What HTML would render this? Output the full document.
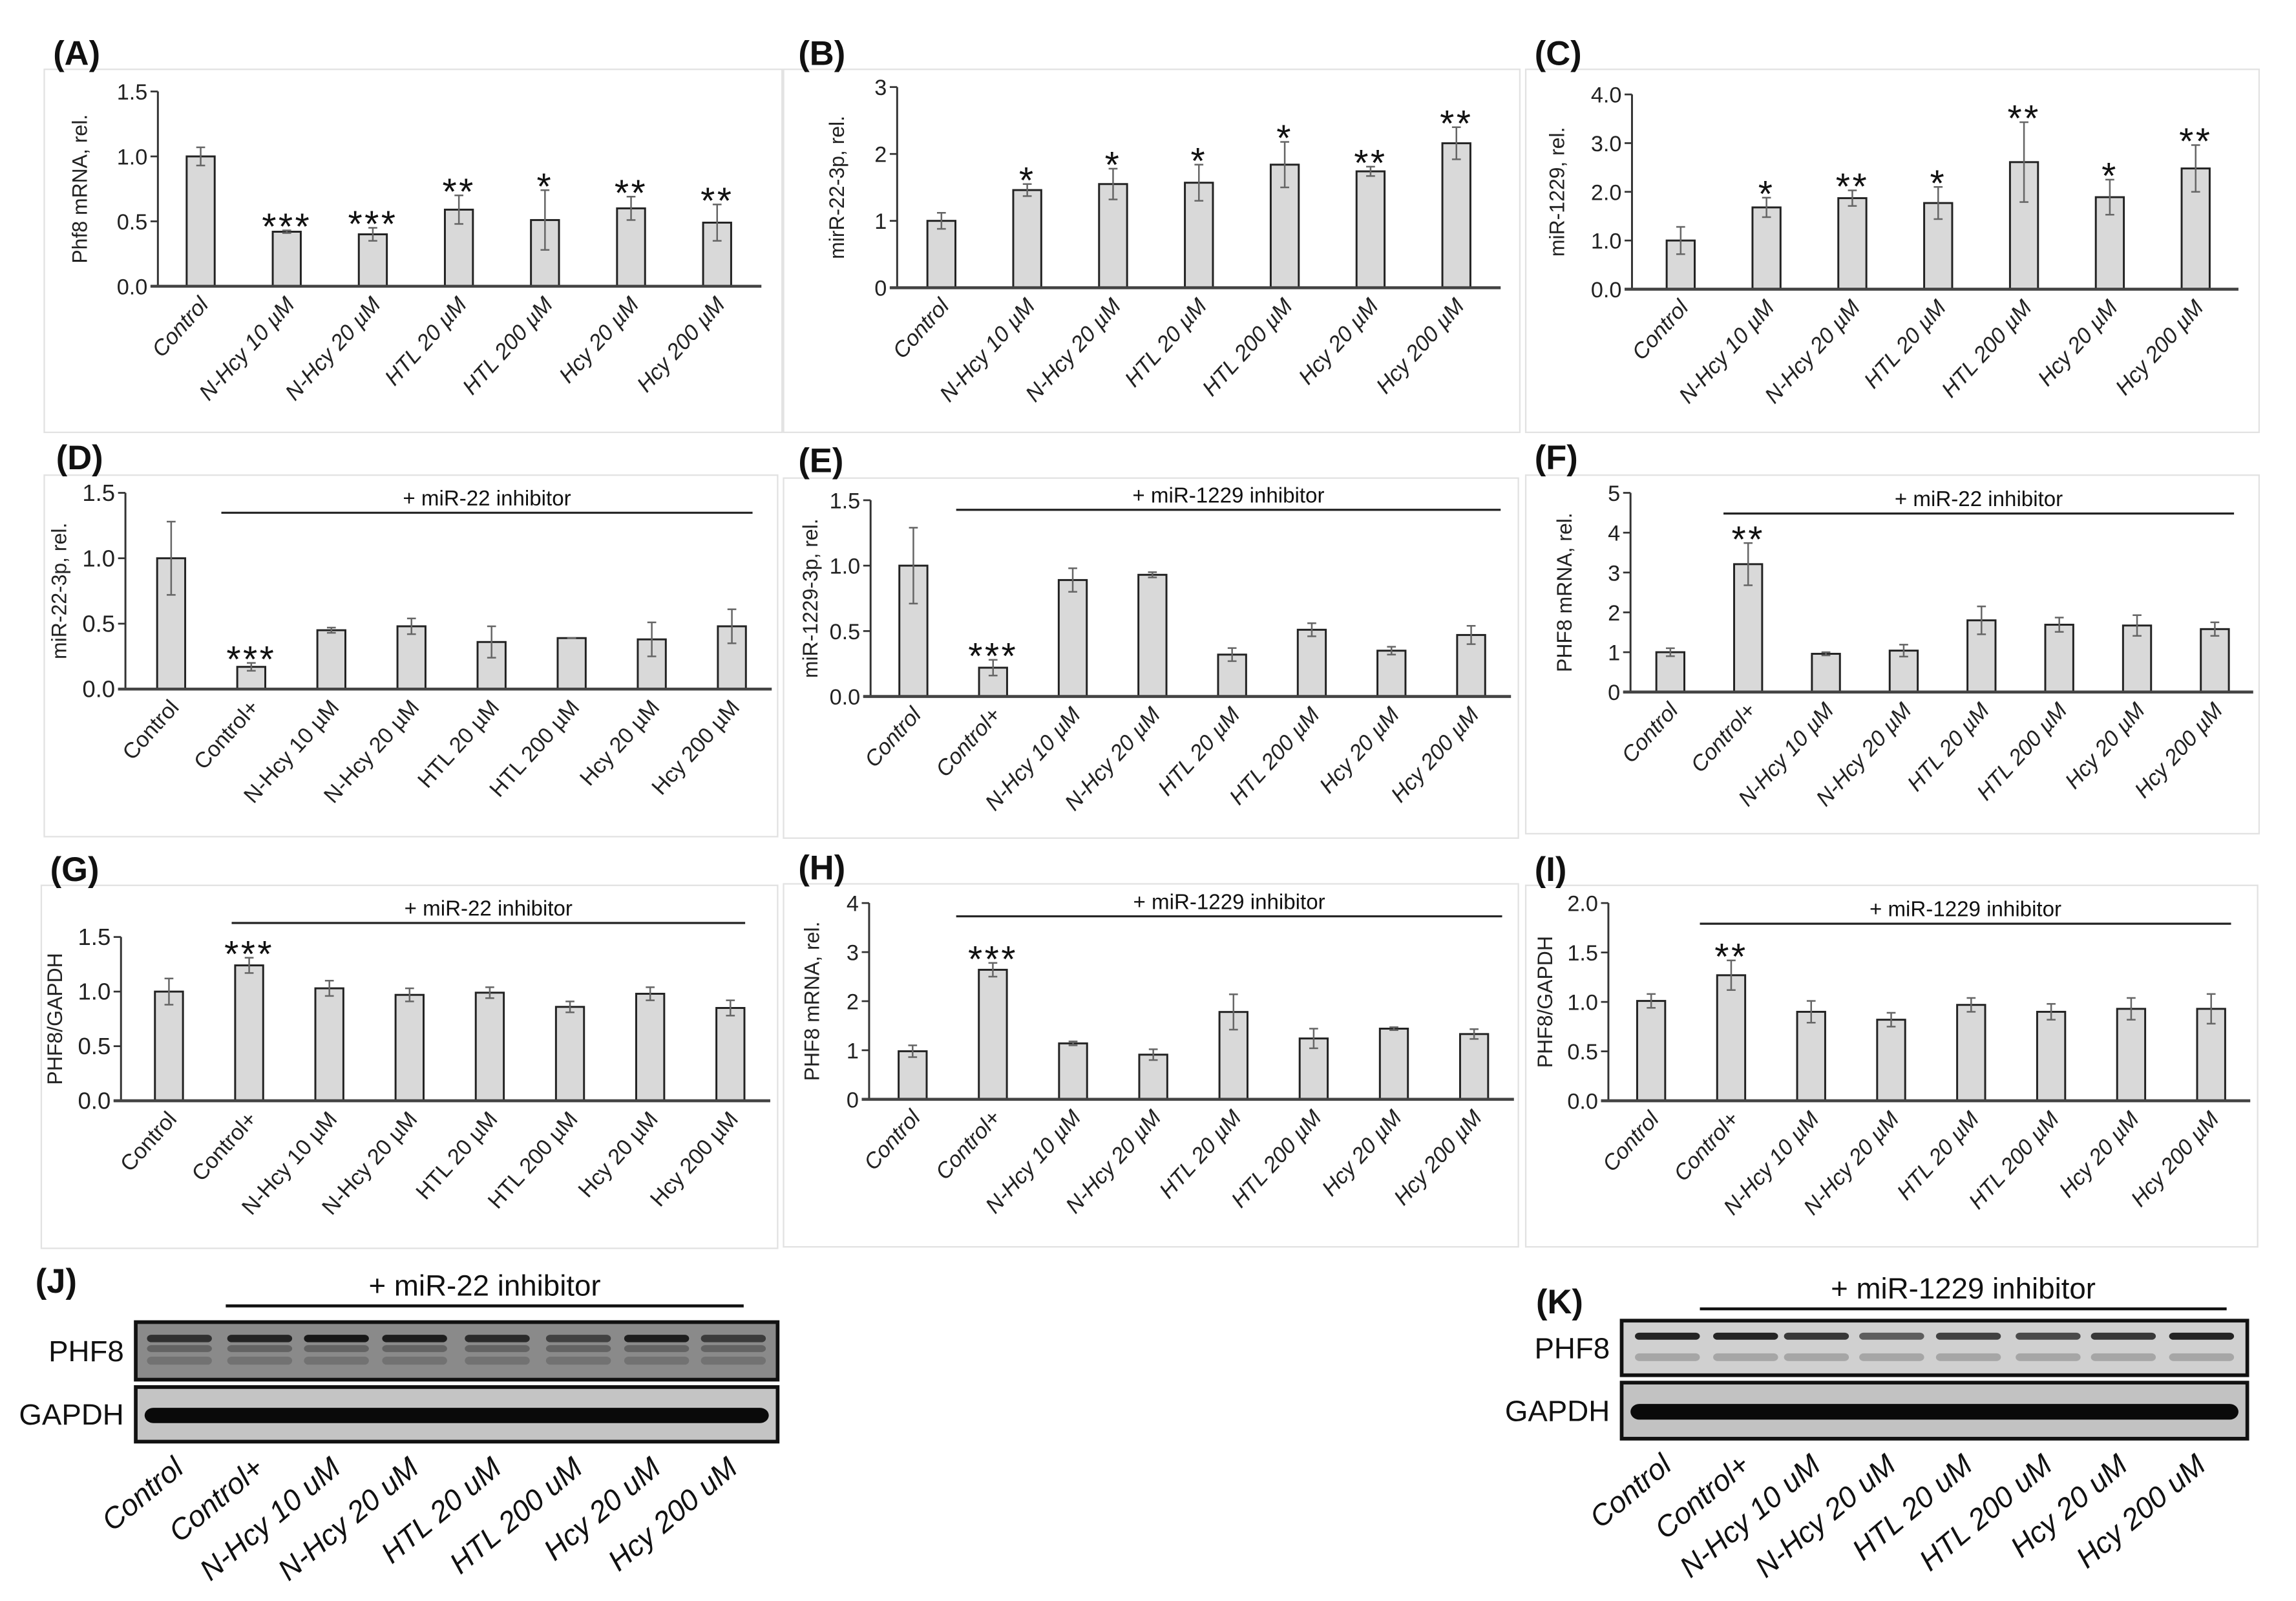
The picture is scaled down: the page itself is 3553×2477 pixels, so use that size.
<!DOCTYPE html>
<html><head><meta charset="utf-8">
<style>
html,body{margin:0;padding:0;background:#fff;}
svg{display:block;}
text{font-family:"Liberation Sans",sans-serif;}
</style></head>
<body>
<svg id="fig" width="3553" height="2477" viewBox="0 0 1556 1085" preserveAspectRatio="none" xmlns="http://www.w3.org/2000/svg">
<rect x="0" y="0" width="1556" height="1085" fill="#fff"/>
</svg>
<script>
// ===== Data =====
const cats7 = ["Control","N-Hcy 10 µM","N-Hcy 20 µM","HTL 20 µM","HTL 200 µM","Hcy 20 µM","Hcy 200 µM"];
const cats8 = ["Control","Control+","N-Hcy 10 µM","N-Hcy 20 µM","HTL 20 µM","HTL 200 µM","Hcy 20 µM","Hcy 200 µM"];
const blotCats = ["Control","Control+","N-Hcy 10 uM","N-Hcy 20 uM","HTL 20 uM","HTL 200 uM","Hcy 20 uM","Hcy 200 uM"];

const valsA = [1.0,0.42,0.40,0.59,0.51,0.60,0.49];
const errsA = [0.07,0.01,0.05,0.11,0.23,0.09,0.14];
const starsA = ["","***","***","**","*","**","**"];
const ticksA = ["0.0","0.5","1.0","1.5"];

const valsB = [1.0,1.46,1.55,1.57,1.84,1.74,2.16];
const errsB = [0.12,0.09,0.23,0.27,0.34,0.07,0.24];
const starsB = ["","*","*","*","*","**","**"];
const ticksB = ["0","1","2","3"];

const valsC = [1.0,1.68,1.87,1.77,2.61,1.89,2.48];
const errsC = [0.28,0.20,0.16,0.33,0.82,0.36,0.48];
const starsC = ["","*","**","*","**","*","**"];
const ticksC = ["0.0","1.0","2.0","3.0","4.0"];

const valsD = [1.0,0.17,0.45,0.48,0.36,0.39,0.38,0.48];
const errsD = [0.28,0.03,0.02,0.06,0.12,0.0,0.13,0.13];
const starsD = ["","***","","","","","",""];
const ticksD = ["0.0","0.5","1.0","1.5"];

const valsE = [1.0,0.22,0.89,0.93,0.32,0.51,0.35,0.47];
const errsE = [0.29,0.06,0.09,0.02,0.05,0.05,0.03,0.07];
const starsE = ["","***","","","","","",""];
const ticksE = ["0.0","0.5","1.0","1.5"];

const valsF = [1.0,3.21,0.96,1.04,1.80,1.69,1.67,1.58];
const errsF = [0.10,0.53,0.04,0.15,0.35,0.18,0.26,0.17];
const starsF = ["","**","","","","","",""];
const ticksF = ["0","1","2","3","4","5"];

const valsG = [1.0,1.24,1.03,0.97,0.99,0.86,0.98,0.85];
const errsG = [0.12,0.07,0.07,0.06,0.05,0.05,0.06,0.07];
const starsG = ["","***","","","","","",""];
const ticksG = ["0.0","0.5","1.0","1.5"];

const valsH = [0.98,2.64,1.14,0.91,1.78,1.24,1.44,1.33];
const errsH = [0.12,0.14,0.04,0.11,0.36,0.20,0.03,0.10];
const starsH = ["","***","","","","","",""];
const ticksH = ["0","1","2","3","4"];

const valsI = [1.01,1.27,0.90,0.82,0.97,0.90,0.93,0.93];
const errsI = [0.07,0.15,0.11,0.07,0.07,0.08,0.11,0.15];
const starsI = ["","**","","","","","",""];
const ticksI = ["0.0","0.5","1.0","1.5","2.0"];

// ===== Helpers =====
const NS = "http://www.w3.org/2000/svg";
const fig = document.getElementById('fig');
function mk(tag, attrs, parent, txt){
  const e = document.createElementNS(NS, tag);
  for (const k in attrs) e.setAttribute(k, attrs[k]);
  if (txt !== undefined) e.textContent = txt;
  (parent||fig).appendChild(e);
  return e;
}

function panel(p){
  const g = mk('g', {});
  
  
  const box = mk('rect', {x:p.box[0], y:p.box[1], width:p.box[2]-p.box[0], height:p.box[3]-p.box[1], fill:'#fff', stroke:'#e2e2e2', 'stroke-width':1}, g);
  
  
  const lab = mk('text', {x:p.lab[0], y:p.lab[1], 'font-size':23, 'font-weight':'bold', fill:'#111'}, g, '(' + p.id + ')');
  
  

  const ax = p.ax, y0 = p.y0, yT = p.yT, ymax = p.ymax;
  const yS = v => y0 - (v / ymax) * (y0 - yT);
  const n = p.vals.length;
  const xS = i => p.x0 + i * (p.x1 - p.x0) / (n - 1);
  const bw = 19;

  const yl = mk('line', {x1:ax, y1:yT, x2:ax, y2:y0, stroke:'#333', 'stroke-width':1.3}, g);
  
  
  p.ticks.forEach((t, k) => {
    const v = k * ymax / (p.ticks.length - 1);
    const yy = yS(v);
    mk('line', {x1:ax-5, y1:yy, x2:ax, y2:yy, stroke:'#333', 'stroke-width':1.2}, g);
    const tl = mk('text', {x:ax-7, y:yy+5.5, 'font-size':p.tfs, 'text-anchor':'end', fill:'#222'}, g, t);
    
    
  });
  const ttx = ax - p.titleOff, tty = (y0 + yT) / 2;
  const tt = mk('text', {x:ttx, y:tty, 'font-size':14, 'text-anchor':'middle', fill:'#222', transform:`rotate(-90 ${ttx} ${tty})`}, g, p.title);
  
  

  p.vals.forEach((v, i) => {
    const cx = xS(i), top = yS(v);
    const r = mk('rect', {x:cx-bw/2, y:top, width:bw, height:y0-top, fill:'#d9d9d9', stroke:'#222', 'stroke-width':1.3}, g);
    
    
    const e = p.errs[i];
    const eh = yS(v + e), el = yS(v - e);
    const eg = mk('g', {stroke:'#666', 'stroke-width':1.1}, g);
    
    
    mk('line', {x1:cx, y1:eh, x2:cx, y2:el}, eg);
    mk('line', {x1:cx-3, y1:eh, x2:cx+3, y2:eh}, eg);
    mk('line', {x1:cx-3, y1:el, x2:cx+3, y2:el}, eg);
    if (p.stars[i]) {
      const s = mk('text', {x:cx, y:eh+6, 'font-size':25, 'letter-spacing':1.5, 'text-anchor':'middle', fill:'#111'}, g, p.stars[i]);
      
      
    }
    const lx = cx + 6, ly = y0 + 13;
    const xl = mk('text', {x:lx, y:ly, 'font-size':15, 'font-style':p.italic?'italic':'normal', 'text-anchor':'end', fill:'#222', transform:`rotate(-48 ${lx} ${ly})`}, g, p.cats[i]);
    
    
  });
  const xa = mk('line', {x1:ax-5, y1:y0, x2:p.axEnd, y2:y0, stroke:'#444', 'stroke-width':2}, g);
  
  

  if (p.inh) {
    const il = mk('line', {x1:p.inh[0], y1:p.inh[2], x2:p.inh[1], y2:p.inh[2], stroke:'#222', 'stroke-width':1.4}, g);
    
    
    const it = mk('text', {x:(p.inh[0]+p.inh[1])/2, y:p.inh[2]-5, 'font-size':14.5, 'text-anchor':'middle', fill:'#111'}, g, p.inhText);
    
    
  }
}

panel({id:'A', box:[30,47,530,293], lab:[36,44], ax:107, y0:194, yT:62, ymax:1.5, x0:136, x1:486, axEnd:516, vals:valsA, errs:errsA, stars:starsA, ticks:ticksA, cats:cats7, title:'Phf8 mRNA, rel.', titleOff:48, tfs:15, italic:true});
panel({id:'B', box:[531,47,1030,293], lab:[541,44], ax:608, y0:195, yT:59, ymax:3, x0:638, x1:987, axEnd:1017, vals:valsB, errs:errsB, stars:starsB, ticks:ticksB, cats:cats7, title:'mirR-22-3p, rel.', titleOff:36, tfs:15, italic:true});
panel({id:'C', box:[1034,47,1531,293], lab:[1040,44], ax:1106, y0:196, yT:64, ymax:4, x0:1139, x1:1488, axEnd:1517, vals:valsC, errs:errsC, stars:starsC, ticks:ticksC, cats:cats7, title:'miR-1229, rel.', titleOff:46, tfs:15, italic:true});

panel({id:'D', box:[30,322,527,567], lab:[38,318], ax:85, y0:467, yT:334, ymax:1.5, x0:116, x1:496, axEnd:523, vals:valsD, errs:errsD, stars:starsD, ticks:ticksD, cats:cats8, title:'miR-22-3p, rel.', titleOff:40, tfs:16, italic:false, inh:[150,510,347.5], inhText:'+ miR-22 inhibitor'});
panel({id:'E', box:[531,324,1029,568], lab:[541,320], ax:590, y0:472, yT:339, ymax:1.5, x0:619, x1:997, axEnd:1024, vals:valsE, errs:errsE, stars:starsE, ticks:ticksE, cats:cats8, title:'miR-1229-3p, rel.', titleOff:36, tfs:15, italic:true, inh:[648,1017,345.5], inhText:'+ miR-1229 inhibitor'});
panel({id:'F', box:[1034,322,1531,565], lab:[1040,318], ax:1105, y0:469, yT:334, ymax:5, x0:1132, x1:1501, axEnd:1527, vals:valsF, errs:errsF, stars:starsF, ticks:ticksF, cats:cats8, title:'PHF8 mRNA, rel.', titleOff:40, tfs:15, italic:true, inh:[1168,1514,348], inhText:'+ miR-22 inhibitor'});

panel({id:'G', box:[28,600,527,846], lab:[34,597], ax:82, y0:746, yT:635, ymax:1.5, x0:114.5, x1:495, axEnd:522, vals:valsG, errs:errsG, stars:starsG, ticks:ticksG, cats:cats8, title:'PHF8/GAPDH', titleOff:40, tfs:16, italic:false, inh:[157,505,625.5], inhText:'+ miR-22 inhibitor'});
panel({id:'H', box:[531,599,1029,845], lab:[541,596], ax:589, y0:745, yT:612, ymax:4, x0:618.5, x1:999, axEnd:1026, vals:valsH, errs:errsH, stars:starsH, ticks:ticksH, cats:cats8, title:'PHF8 mRNA, rel.', titleOff:34, tfs:15, italic:true, inh:[648,1018,621], inhText:'+ miR-1229 inhibitor'});
panel({id:'I', box:[1034,600,1530,845], lab:[1040,597], ax:1090, y0:746, yT:612, ymax:2, x0:1119, x1:1498.5, axEnd:1525, vals:valsI, errs:errsI, stars:starsI, ticks:ticksI, cats:cats8, title:'PHF8/GAPDH', titleOff:38, tfs:15, italic:true, inh:[1152,1512,626], inhText:'+ miR-1229 inhibitor'});

// ===== Western blots =====
function blot(b){
  const g = mk('g', {});
  
  
  const lab = mk('text', {x:b.lab[0], y:b.lab[1], 'font-size':23, 'font-weight':'bold', fill:'#111'}, g, '(' + b.id + ')');
  
  
  const it = mk('text', {x:(b.line[0]+b.line[1])/2, y:b.line[2]-7, 'font-size':20, 'text-anchor':'middle', fill:'#111'}, g, b.inhText);
  
  
  const il = mk('line', {x1:b.line[0], y1:b.line[2], x2:b.line[1], y2:b.line[2], stroke:'#111', 'stroke-width':2}, g);
  
  
  const p = b.phf;
  const pr = mk('rect', {x:b.x0, y:p[0], width:b.x1-b.x0, height:p[1]-p[0], fill:b.phfBg, stroke:'#111', 'stroke-width':2.5}, g);
  
  
  b.lanes.forEach((cx, i) => {
    const h = p[1]-p[0];
    mk('rect', {x:cx-22, y:p[0]+h*0.22, width:44, height:h*0.13, rx:3, fill:'#111', opacity:b.phfTop[i]}, g);
    mk('rect', {x:cx-22, y:p[0]+h*0.4, width:44, height:h*0.12, rx:3, fill:'#333', opacity:b.phfMid}, g);
    mk('rect', {x:cx-22, y:p[0]+h*0.6, width:44, height:h*0.14, rx:3, fill:'#444', opacity:b.phfLow}, g);
  });
  const pt = mk('text', {x:b.x0-8, y:(p[0]+p[1])/2+7, 'font-size':20, 'text-anchor':'end', fill:'#111'}, g, 'PHF8');
  
  
  const q = b.gap;
  const gr = mk('rect', {x:b.x0, y:q[0], width:b.x1-b.x0, height:q[1]-q[0], fill:b.gapBg, stroke:'#111', 'stroke-width':2.5}, g);
  
  
  const qh = q[1]-q[0];
  mk('rect', {x:b.x0+6, y:q[0]+qh*0.38, width:b.x1-b.x0-12, height:qh*0.28, rx:6, fill:'#0a0a0a'}, g);
  const gt = mk('text', {x:b.x0-8, y:(q[0]+q[1])/2+7, 'font-size':20, 'text-anchor':'end', fill:'#111'}, g, 'GAPDH');
  
  
  blotCats.forEach((c, i) => {
    const lx = b.lanes[i] + 4, ly = q[1] + 20;
    const t = mk('text', {x:lx, y:ly, 'font-size':20, 'font-style':'italic', 'text-anchor':'end', fill:'#111', transform:`rotate(-40 ${lx} ${ly})`}, g, c);
    
    
  });
}
blot({id:'J', lab:[24,876], line:[153,504,885], inhText:'+ miR-22 inhibitor', x0:92, x1:527, phf:[896,935], gap:[940,977],
  lanes:[121.6,176,228,281,337,392,445,497], phfBg:'#8a8a8a', gapBg:'#c4c4c4', phfTop:[0.75,0.85,0.95,0.9,0.8,0.6,0.9,0.65], phfMid:0.45, phfLow:0.35});
blot({id:'K', lab:[1041,890], line:[1152,1509,887], inhText:'+ miR-1229 inhibitor', x0:1099, x1:1523, phf:[895,932], gap:[937,975],
  lanes:[1130,1183,1231,1282,1334,1388,1439,1492], phfBg:'#d0d0d0', gapBg:'#c2c2c2', phfTop:[0.9,0.9,0.8,0.6,0.75,0.7,0.8,0.9], phfMid:0.0, phfLow:0.3});
</script>
</body></html>
